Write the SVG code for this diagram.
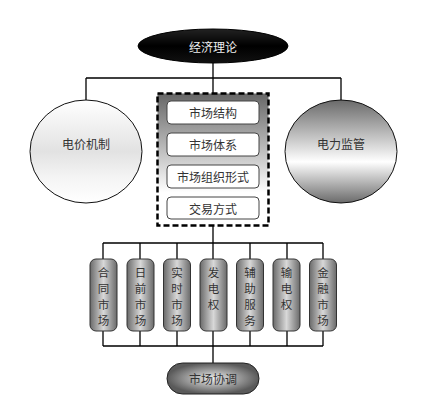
<svg xmlns="http://www.w3.org/2000/svg" width="434" height="410" viewBox="0 0 434 410">
<defs>
<linearGradient id="gTop" x1="0" y1="0" x2="0" y2="1"><stop offset="0" stop-color="#222"/><stop offset="0.5" stop-color="#000"/><stop offset="1" stop-color="#111"/></linearGradient>
<linearGradient id="gLeft" x1="0" y1="0" x2="0" y2="1"><stop offset="0" stop-color="#fff"/><stop offset="0.5" stop-color="#e2e2e2"/><stop offset="0.75" stop-color="#f4f4f4"/><stop offset="1" stop-color="#fff"/></linearGradient>
<linearGradient id="gRight" x1="0" y1="0" x2="0" y2="1"><stop offset="0" stop-color="#6a6a6a"/><stop offset="0.6" stop-color="#fff"/><stop offset="1" stop-color="#6a6a6a"/></linearGradient>
<linearGradient id="gBox" x1="0" y1="0" x2="0" y2="1"><stop offset="0" stop-color="#666"/><stop offset="0.75" stop-color="#fff"/><stop offset="1" stop-color="#fff"/></linearGradient>
<linearGradient id="gPill" x1="0" y1="0" x2="1" y2="0"><stop offset="0" stop-color="#6a6a6a"/><stop offset="0.5" stop-color="#d8d8d8"/><stop offset="1" stop-color="#6a6a6a"/></linearGradient>
<radialGradient id="gBot" cx="0.5" cy="0.5" r="0.5"><stop offset="0" stop-color="#eee"/><stop offset="1" stop-color="#5a5a5a"/></radialGradient>
</defs>
<style>
text{font-family:"Noto Sans CJK SC","Noto Sans CJK JP",sans-serif;font-size:12px;fill:#333;text-anchor:middle;dominant-baseline:central}
.ln{stroke:#000;stroke-width:1.3;fill:none}
.inner{fill:#fff;stroke:#444;stroke-width:1}
.pill{fill:url(#gPill);stroke:#333;stroke-width:1}
.vt{font-size:11.5px}
</style>
<g id="connectors">
<path class="ln" d="M213 63V93M86 78H341M86 78V100M341 78V100"/>
<path class="ln" d="M213 226V363M103 243H323M103 243V259M140 243V259M177 243V259M250 243V259M287 243V259M323 243V259"/>
<path class="ln" d="M103 346H323M103 331V346M140 331V346M177 331V346M250 331V346M287 331V346M323 331V346"/>
</g>
<g id="node-top"><ellipse cx="213" cy="46" rx="75" ry="17" fill="url(#gTop)" stroke="#000"/><text x="213" y="46" style="fill:#eee">经济理论</text></g>
<g id="node-left"><ellipse cx="86" cy="151.5" rx="56" ry="51.5" fill="url(#gLeft)" stroke="#111"/><text x="86" y="143">电价机制</text></g>
<g id="node-right"><ellipse cx="341" cy="151.5" rx="56" ry="51.5" fill="url(#gRight)" stroke="#111"/><text x="341" y="143">电力监管</text></g>
<g id="node-box"><rect x="157.5" y="93.5" width="111" height="132" fill="url(#gBox)" stroke="#000" stroke-width="2.5" stroke-dasharray="6,3"/></g>
<g id="node-b1"><rect class="inner" x="167" y="101" width="92" height="23" rx="4"/><text x="213" y="112.5">市场结构</text></g>
<g id="node-b2"><rect class="inner" x="167" y="133" width="92" height="23" rx="4"/><text x="213" y="144.5">市场体系</text></g>
<g id="node-b3"><rect class="inner" x="167" y="165" width="92" height="23" rx="4"/><text x="213" y="176.5">市场组织形式</text></g>
<g id="node-b4"><rect class="inner" x="167" y="197" width="92" height="22" rx="4"/><text x="213" y="208">交易方式</text></g>
<g id="node-p1"><rect class="pill" x="90" y="259" width="27" height="72" rx="6"/><text class="vt" x="103.5" y="272">合</text><text class="vt" x="103.5" y="288">同</text><text class="vt" x="103.5" y="304">市</text><text class="vt" x="103.5" y="320">场</text></g>
<g id="node-p2"><rect class="pill" x="127" y="259" width="27" height="72" rx="6"/><text class="vt" x="140.5" y="272">日</text><text class="vt" x="140.5" y="288">前</text><text class="vt" x="140.5" y="304">市</text><text class="vt" x="140.5" y="320">场</text></g>
<g id="node-p3"><rect class="pill" x="163.5" y="259" width="27" height="72" rx="6"/><text class="vt" x="177" y="272">实</text><text class="vt" x="177" y="288">时</text><text class="vt" x="177" y="304">市</text><text class="vt" x="177" y="320">场</text></g>
<g id="node-p4"><rect class="pill" x="200" y="259" width="27" height="72" rx="6"/><text class="vt" x="213.5" y="272">发</text><text class="vt" x="213.5" y="288">电</text><text class="vt" x="213.5" y="304">权</text></g>
<g id="node-p5"><rect class="pill" x="236.5" y="259" width="27" height="72" rx="6"/><text class="vt" x="250" y="272">辅</text><text class="vt" x="250" y="288">助</text><text class="vt" x="250" y="304">服</text><text class="vt" x="250" y="320">务</text></g>
<g id="node-p6"><rect class="pill" x="273" y="259" width="27" height="72" rx="6"/><text class="vt" x="286.5" y="272">输</text><text class="vt" x="286.5" y="288">电</text><text class="vt" x="286.5" y="304">权</text></g>
<g id="node-p7"><rect class="pill" x="309.5" y="259" width="27" height="72" rx="6"/><text class="vt" x="323" y="272">金</text><text class="vt" x="323" y="288">融</text><text class="vt" x="323" y="304">市</text><text class="vt" x="323" y="320">场</text></g>
<g id="node-bottom"><rect x="167" y="363" width="92" height="31" rx="15.5" fill="url(#gBot)" stroke="#222" stroke-width="1"/><text x="213" y="378.5">市场协调</text></g>
</svg>
